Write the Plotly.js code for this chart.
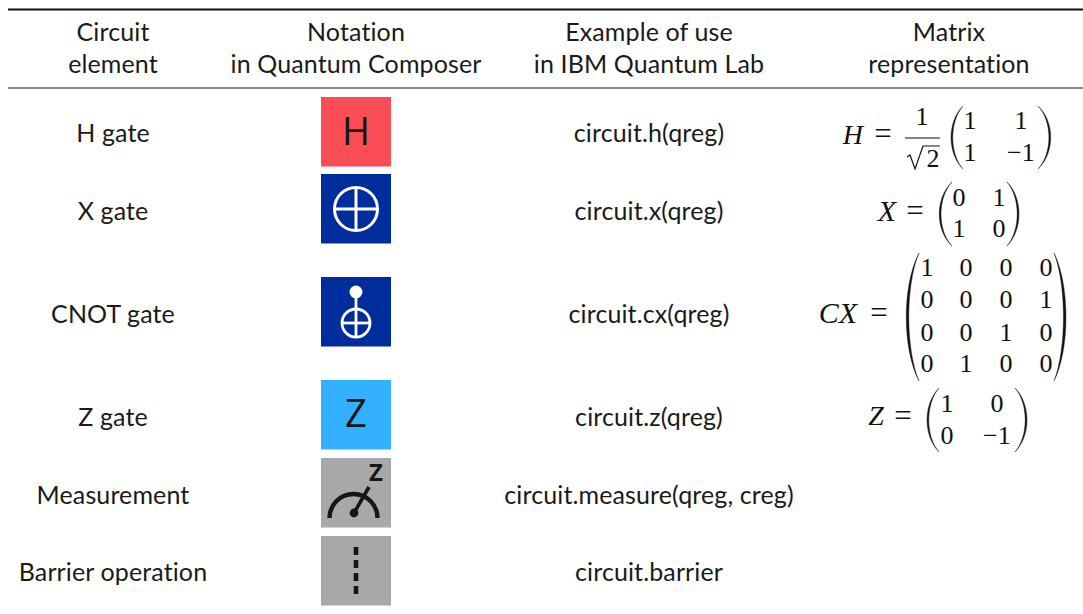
<!DOCTYPE html>
<html><head><meta charset="utf-8">
<script src="https://cdn.plot.ly/plotly-3.0.1.min.js"></script>
<style>html,body{margin:0;padding:0;background:#fff}
.textpoint text{letter-spacing:.12px}</style></head>
<body><div id="chart" style="width:1083px;height:614px"></div>
<script>
// ---- table content ----
const headerCol1 = ["Circuit", "element"];
const headerCol2 = ["Notation", "in Quantum Composer"];
const headerCol3 = ["Example of use", "in IBM Quantum Lab"];
const headerCol4 = ["Matrix", "representation"];
const circuitElements = ["H gate", "X gate", "CNOT gate", "Z gate", "Measurement", "Barrier operation"];
const codeExamples = ["circuit.h(qreg)", "circuit.x(qreg)", "circuit.cx(qreg)", "circuit.z(qreg)", "circuit.measure(qreg, creg)", "circuit.barrier"];
const gateColors = ["#fa4d56", "#002d9c", "#002d9c", "#33b1ff", "#a8a8a8", "#a8a8a8"];
const matrixH = [["1", "1"], ["1", "\u22121"]];
const matrixX = [["0", "1"], ["1", "0"]];
const matrixCX = [["1","0","0","0"], ["0","0","0","1"], ["0","0","1","0"], ["0","1","0","0"]];
const matrixZ = [["1", "0"], ["0", "\u22121"]];

// ---- layout positions (page pixels, used as axis units) ----
const rowY = [134, 212, 315, 418, 496, 573];
const iconTop = [97, 174, 277, 380, 458, 536];
const colX = [113, 356, 649];
const SANS = "Lato, 'Open Sans', sans-serif";
const SERIF = "'Liberation Serif', serif";
const INK = "#1a1a1a";
const TEXT_DY = 2;

const shapes = [];
const line = (x0,y0,x1,y1,w,c) => shapes.push({type:"line",xref:"x",yref:"y",x0,y0,x1,y1,layer:"below",line:{color:c,width:w}});
const ring = (cx,cy,r,w,c,fill) => shapes.push({type:"circle",xref:"x",yref:"y",x0:cx-r,x1:cx+r,y0:cy-r,y1:cy+r,layer:"below",line:{color:c,width:w},fillcolor:fill||"rgba(0,0,0,0)"});
const path = (d,fill,lc,w) => shapes.push({type:"path",xref:"x",yref:"y",path:d,layer:"below",fillcolor:fill,line:{color:lc||fill,width:w===undefined?0:w}});

// rules
line(8, 9.5, 1083, 9.5, 2, "#111");
line(8, 88, 1083, 88, 1.2, "#111");

// gate squares
gateColors.forEach((c,i)=>shapes.push({type:"rect",xref:"x",yref:"y",x0:321,x1:391,y0:iconTop[i],y1:iconTop[i]+69.5,layer:"below",fillcolor:c,line:{width:0}}));

// X icon
ring(356,209,21.5,3,"#fff");
line(334.5,209,377.5,209,3,"#fff");
line(356,187.5,356,230.5,3,"#fff");
// CNOT icon
ring(356,292,6.5,0,"#fff","#fff");
line(356,292,356,337,2.8,"#fff");
ring(356,323,14,2.8,"#fff");
line(342,323,370,323,2.8,"#fff");
// Measurement icon
const k = 24*0.5523;
path(`M329.5 518 C329.5 ${518-k} ${353.5-k} 494 353.5 494 C${353.5+k} 494 377.5 ${518-k} 377.5 518`,"rgba(0,0,0,0)","#161616",4.4);
line(354,513,369,487,3.6,"#161616");
ring(354,513,4.4,0,"#161616","#161616");
// Barrier icon
[[547,555],[560,568],[573,581],[586,594]].forEach(d=>line(356,d[0],356,d[1],4.6,"#161616"));

// parentheses
function parens(xl0,xl1,xr0,xr1,y0,y1,t){
  const a=y0+(y1-y0)*0.25, b=y0+(y1-y0)*0.75;
  path(`M${xl1} ${y0} C${xl0-3} ${a} ${xl0-3} ${b} ${xl1} ${y1} C${xl0-3+t} ${b} ${xl0-3+t} ${a} ${xl1} ${y0} Z`,"#111","#111",0.4);
  path(`M${xr0} ${y0} C${xr1+3} ${a} ${xr1+3} ${b} ${xr0} ${y1} C${xr1+3-t} ${b} ${xr1+3-t} ${a} ${xr0} ${y0} Z`,"#111","#111",0.4);
}
parens(950,963,1038,1052,106,169,2.4);
parens(938,952,1007,1020,182,246,2.4);
parens(905,919,1054,1067,253,381,3.4);
parens(926,939,1015,1028,388,452,2.4);

// fraction bar and radical
line(905,138,940,138,1.2,"#111");
path("M907 157 L910 155 L915 169 L923 146 L940 146","rgba(0,0,0,0)","#111",1.2);

// ---- text traces ----
const traces = [];
function addText(xs,ys,texts,font,size,color,weight){
  traces.push({type:"scatter",mode:"text",x:xs,y:ys.map(v=>v+TEXT_DY),text:texts,textposition:"middle center",
    textfont:{family:font,size:size,color:color||INK,weight:weight||400},hoverinfo:"skip",showlegend:false,cliponaxis:false});
}
const hdrY=[33,65];
addText([113,113],hdrY,headerCol1,SANS,25);
addText([356,356],hdrY,headerCol2,SANS,25);
addText([649,649],hdrY,headerCol3,SANS,25);
addText([949,949],hdrY,headerCol4,SANS,25);
addText(rowY.map(()=>colX[0]),rowY,circuitElements,SANS,25);
addText(rowY.map(()=>colX[2]),rowY,codeExamples,SANS,25);

// letters inside the gate icons
addText([356,356],[133,415.5],["H","Z"],"'Open Sans', sans-serif",38,"#161616",500);
addText([376],[472.5],["Z"],"'Open Sans', sans-serif",24,"#161616",700);

// matrices
function addMatrix(m,xs,ys){
  const X=[],Y=[],T=[];
  m.forEach((r,i)=>r.forEach((v,j)=>{X.push(xs[j]);Y.push(ys[i]);T.push(v);}));
  addText(X,Y,T,SERIF,26,"#111");
}
addMatrix(matrixH,[970,1021],[120,152]);
addMatrix(matrixX,[959,999],[197,228]);
addMatrix(matrixCX,[927,966,1006,1046],[267,299,332,363]);
addMatrix(matrixZ,[947,997],[403,435]);

// matrix left-hand sides
addText([853,876],[135,416],["<i>H</i>","<i>Z</i>"],SERIF,28,"#111");
addText([887,838],[211,313],["<i>X</i>","<i>CX</i>"],SERIF,30,"#111");
addText([883,915,879,903],[134,211,313,416],["=","=","=","="],SERIF,31,"#111");
addText([922,933],[116,158],["1","2"],SERIF,26,"#111");

const layout = {
  width:1083,height:614,margin:{l:0,r:0,t:0,b:0},
  paper_bgcolor:"#fff",plot_bgcolor:"#fff",showlegend:false,
  xaxis:{range:[0,1083],visible:false,fixedrange:true},
  yaxis:{range:[614,0],visible:false,fixedrange:true},
  shapes:shapes
};
Plotly.newPlot("chart",traces,layout,{displayModeBar:false,staticPlot:true});
</script></body></html>
